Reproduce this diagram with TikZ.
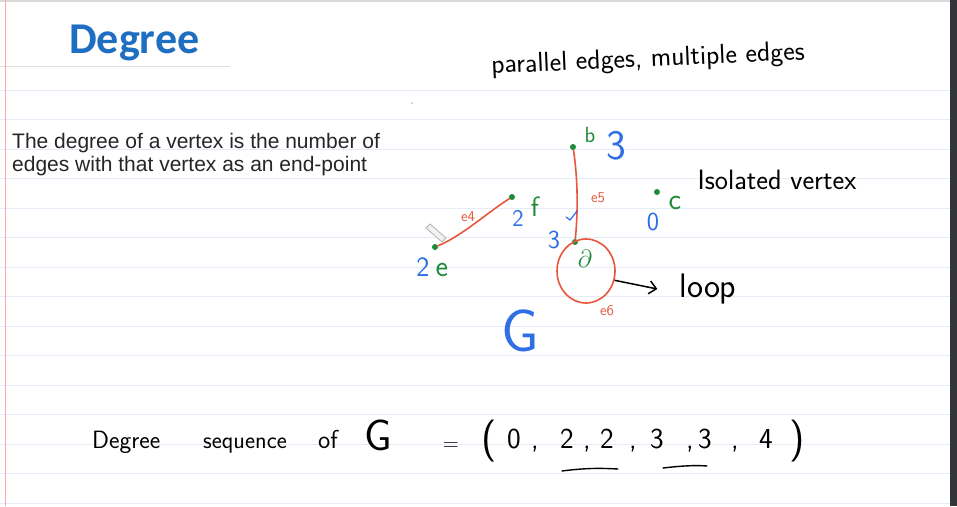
\documentclass[tikz,border=0pt]{standalone}
\usepackage{fontspec}
\setmainfont{Liberation Sans}
\newfontfamily\titlefont{Carlito}
\usetikzlibrary{arrows.meta,positioning,shapes.geometric}

\definecolor{edgered}{HTML}{E8573C}
\definecolor{vgreen}{HTML}{1F8A3A}
\definecolor{penblue}{HTML}{2F6FE6}
\definecolor{titleblue}{HTML}{1E6EC2}
\definecolor{rulecol}{HTML}{E4EDF7}
\definecolor{sidebar}{HTML}{333538}

\tikzset{
  vertex/.style={circle,fill=vgreen,inner sep=0pt,minimum size=6pt},
  edgeline/.style={edgered,line width=1.6pt,line cap=round},
  vname/.style={text=vgreen,inner sep=0pt,font=\sffamily\fontsize{#1}{#1}\selectfont},
  degnum/.style={text=penblue,inner sep=0pt,font=\sffamily\fontsize{#1}{#1}\selectfont},
  edgename/.style={text=edgered,inner sep=0pt,font=\sffamily\fontsize{15}{15}\selectfont},
  handtext/.style={inner sep=0pt,font=\sffamily\fontsize{#1}{#1}\selectfont},
}

\begin{document}
\begin{tikzpicture}[x=1pt,y=-1pt]
  \useasboundingbox (0,0) rectangle (957,506);
  \fill[white] (0,0) rectangle (957,506);
  % notebook page
  \foreach \k in {0,...,14}
    \draw[rulecol,line width=1pt] (0,{90+29.5*\k}) -- (950,{90+29.5*\k});
  \draw[gray!25,line width=1pt] (0,66) -- (230,66);
  \draw[gray!30,line width=1.5pt] (0,1) -- (950,1);
  \draw[red!35,line width=0.8pt] (5,0) -- (5,506);
  \fill[sidebar] (950,0) rectangle (957,506);
  \fill[gray!60] (412,103) circle (0.8pt);

  % heading and definition
  \node[anchor=base west,inner sep=0pt,text=titleblue,font=\titlefont\bfseries\fontsize{44}{44}\selectfont] (title) at (69,53) {Degree};
  \node[anchor=north west,inner sep=0pt,align=left,text=black!85,font=\fontsize{21}{23.5}\selectfont] (defn) at (12,133)
    {The degree of a vertex is the number of\\edges with that vertex as an end-point};
  \node[handtext=27.5,rotate=2.5] (multi) at (648,60) {parallel edges, multiple edges};

  % graph G
  \node[vertex] (b) at (573,147) {};
  \node[vertex] (f) at (512,197) {};
  \node[vertex] (e) at (435,247) {};
  \node[vertex] (d) at (575,242) {};
  \node[vertex] (c) at (657,192) {};

  \draw[edgeline] (e) .. controls (462,236) and (488,212) .. (f);
  \draw[edgeline] (b) .. controls (578,180) and (578,212) .. (d);
  \node[ellipse,draw=edgered,line width=1.6pt,inner sep=0pt,minimum width=58pt,minimum height=64pt] (ring) at (586,271) {};

  \node[vname=22] (bname) at (590,135) {b};
  \node[vname=28] (fname) at (535,207) {f};
  \node[vname=30] (ename) at (442,270) {e};
  \node[vname=28] (dname) at (585,259) {$\partial$};
  \node[vname=30] (cname) at (675,203) {c};

  \node[degnum=42] (bdeg) at (616,146) {3};
  \node[degnum=24] (fdeg) at (518,218) {2};
  \node[degnum=28] (edeg) at (423,267) {2};
  \node[degnum=26] (ddeg) at (554,240) {3};
  \node[degnum=26] (cdeg) at (653,222) {0};
  \node[degnum=60] (gname) at (520,331) {G};

  \node[edgename] (efour) at (468,217) {e4};
  \node[edgename] (efive) at (598,198) {e5};
  \node[edgename] (esix) at (607,311) {e6};

  \draw[penblue,line width=1.2pt,line cap=round] (577,211) -- (570,220) -- (566,217);
  \draw[gray!60,line width=0.8pt,fill=gray!10] (426,228) -- (430,224) -- (446,238) -- (442,242) -- cycle;

  \node[handtext=28] (isolated) at (777,180) {Isolated vertex};
  \node[handtext=34] (looptext) at (708,289) {loop};
  \draw[line width=1.5pt,-{Straight Barb[length=7pt,width=13pt]}] (ring.-18) -- ([xshift=-22pt]looptext.west);

  % degree sequence
  \node[handtext=25,anchor=base west] (seqa) at (92,448) {Degree};
  \node[handtext=24,anchor=base west] (seqb) at (203,448) {sequence};
  \node[handtext=26,anchor=base west] (seqc) at (318,448) {of};
  \node[handtext=44,anchor=base west] (seqg) at (364,450) {G};
  \node[handtext=22,anchor=base] (seqeq) at (451,450) {=};
  \node[handtext=42,anchor=base] (lpar) at (489,451) {(};
  \node[handtext=42,anchor=base] (rpar) at (797,451) {)};
  \foreach \x/\t [count=\i] in {514/0,535/{,},567/2,587/{,},607/2,633/{,},657/3,690/{,},705/3,735/{,},766/4}
    \node[handtext=29,anchor=base] (seq\i) at (\x,448) {\t};
  \draw[line width=1.4pt,line cap=round] (562,471) .. controls (585,468) and (600,468) .. (618,469);
  \draw[line width=1.4pt,line cap=round] (663,468) .. controls (680,466) and (695,465) .. (707,466);
\end{tikzpicture}
\end{document}
